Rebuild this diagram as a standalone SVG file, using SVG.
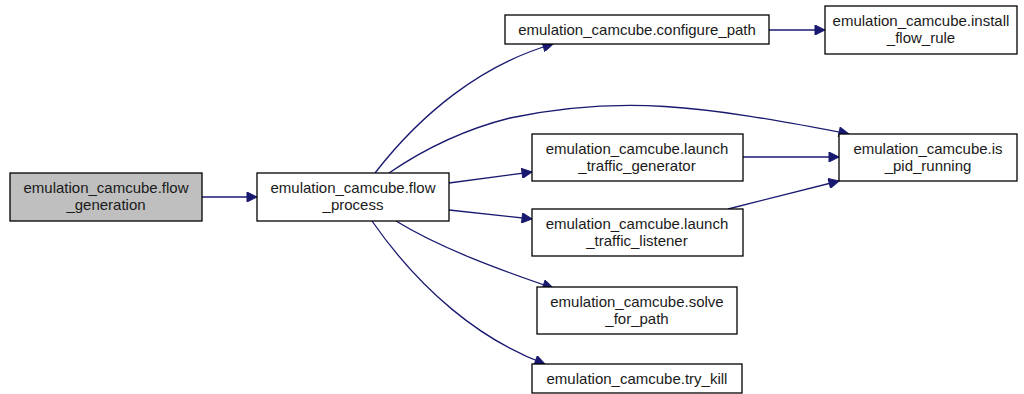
<svg xmlns="http://www.w3.org/2000/svg" width="1024" height="394" viewBox="0 0 1024 394">
<defs>
<style>
.box{fill:#ffffff;stroke:#000000;stroke-width:1.3}
.hl{fill:#bfbfbf}
text{font-family:"Liberation Sans",Arial,sans-serif;font-size:15px;fill:#1a1a1a;text-anchor:middle}
.e{fill:none;stroke:#191970;stroke-width:1.3}
</style>
<marker id="arr" viewBox="0 0 10 10" refX="10" refY="5" markerWidth="14" markerHeight="10" markerUnits="userSpaceOnUse" orient="auto">
<path d="M0,0 L10,5 L0,10 z" fill="#191970" stroke="#191970"/>
</marker>
</defs>
<rect width="1024" height="394" fill="#ffffff"/>
<g id="edges">
<path class="e" marker-end="url(#arr)" d="M202,197 L257,197"/>
<path class="e" marker-end="url(#arr)" d="M375,173 C420,115 480,65 553,44"/>
<path class="e" marker-end="url(#arr)" d="M389,173 C430,145 470,128 510,118 C620,95 700,105 849,134"/>
<path class="e" marker-end="url(#arr)" d="M449,183 L532,172"/>
<path class="e" marker-end="url(#arr)" d="M449,210 L532,219"/>
<path class="e" marker-end="url(#arr)" d="M396,221 C440,248 500,270 553,288"/>
<path class="e" marker-end="url(#arr)" d="M372,221 C420,290 480,340 545,364"/>
<path class="e" marker-end="url(#arr)" d="M743,157 L839,157"/>
<path class="e" marker-end="url(#arr)" d="M728,209 L839,181"/>
<path class="e" marker-end="url(#arr)" d="M769,30 L825,30"/>
</g>
<g id="flow_generation">
<rect class="box hl" x="10" y="173" width="192" height="48"/>
<text x="106" y="193">emulation_camcube.flow</text>
<text x="106" y="210">_generation</text>
</g>
<g id="flow_process">
<rect class="box" x="257" y="173" width="192" height="48"/>
<text x="353" y="193">emulation_camcube.flow</text>
<text x="353" y="210">_process</text>
</g>
<g id="configure_path">
<rect class="box" x="505" y="15" width="264" height="29"/>
<text x="637" y="35">emulation_camcube.configure_path</text>
</g>
<g id="install_flow_rule">
<rect class="box" x="825" y="6" width="192" height="48"/>
<text x="921" y="26">emulation_camcube.install</text>
<text x="921" y="43">_flow_rule</text>
</g>
<g id="is_pid_running">
<rect class="box" x="839" y="134" width="178" height="47"/>
<text x="928" y="154">emulation_camcube.is</text>
<text x="928" y="171">_pid_running</text>
</g>
<g id="launch_traffic_generator">
<rect class="box" x="532" y="134" width="211" height="47"/>
<text x="637" y="154">emulation_camcube.launch</text>
<text x="637" y="171">_traffic_generator</text>
</g>
<g id="launch_traffic_listener">
<rect class="box" x="532" y="209" width="211" height="47"/>
<text x="637" y="229">emulation_camcube.launch</text>
<text x="637" y="246">_traffic_listener</text>
</g>
<g id="solve_for_path">
<rect class="box" x="537" y="287" width="200" height="47"/>
<text x="637" y="307">emulation_camcube.solve</text>
<text x="637" y="324">_for_path</text>
</g>
<g id="try_kill">
<rect class="box" x="532" y="364" width="210" height="29"/>
<text x="637" y="384">emulation_camcube.try_kill</text>
</g>
</svg>
